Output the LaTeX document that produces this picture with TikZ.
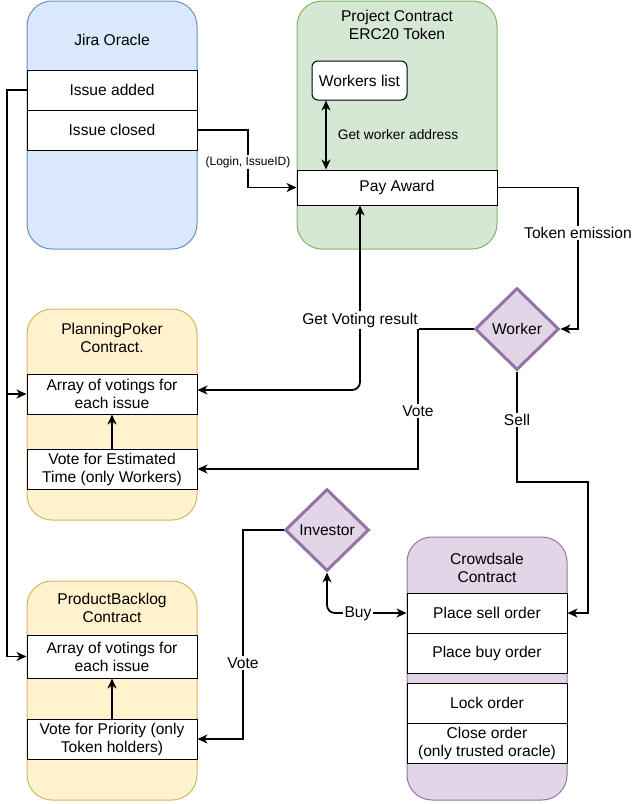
\documentclass[tikz,border=0pt]{standalone}
\usepackage{fontspec}
\setmainfont{Liberation Sans}
\usetikzlibrary{shapes.geometric,arrows.meta,calc}
\definecolor{jiraF}{HTML}{DAE8FC}
\definecolor{jiraS}{HTML}{6C8EBF}
\definecolor{projF}{HTML}{D5E8D4}
\definecolor{projS}{HTML}{82B366}
\definecolor{yelF}{HTML}{FFF2CC}
\definecolor{yelS}{HTML}{D6B656}
\definecolor{purF}{HTML}{E1D5E7}
\definecolor{purS}{HTML}{9673A6}
\begin{document}
\begin{tikzpicture}[x=1pt,y=-1pt,
  every node/.style={font=\fontsize{15.6}{18}\selectfont, inner sep=0pt, align=center},
  group/.style={draw, rounded corners=25pt, line width=1pt},
  jirabox/.style={group, fill=jiraF, draw=jiraS},
  projbox/.style={group, fill=projF, draw=projS},
  yelbox/.style={group, fill=yelF, draw=yelS},
  purbox/.style={group, fill=purF, draw=purS},
  row/.style={draw=black, fill=white, line width=1pt},
  diam/.style={diamond, aspect=1, draw=purS, fill=purF, line width=3pt, minimum width=84pt, minimum height=82pt},
  tip/.tip={Stealth[length=10pt,width=9pt,inset=3pt]},
  conn/.style={line width=1.8pt, -tip},
  biconn/.style={line width=1.8pt, tip-tip},
  lbl/.style={fill=white, inner sep=1.5pt},
  smalltext/.style={font=\fontsize{12}{14}\selectfont},
  midtext/.style={font=\fontsize{13.8}{16}\selectfont}
]
\useasboundingbox (0,0) rectangle (634,804);

% ---- Jira Oracle
\node[jirabox, minimum width=170pt, minimum height=248pt] (jira) at (112,125) {};
\node (jiraT) at (112,40) {Jira Oracle};
\node[row, minimum width=170pt, minimum height=40pt] (added) at (112,90) {Issue added};
\node[row, minimum width=170pt, minimum height=40pt] (closed) at (112,130) {Issue closed};

% ---- Project Contract
\node[projbox, minimum width=200pt, minimum height=248pt] (proj) at (397,125) {};
\node (projT) at (397,25) {Project Contract\\ERC20 Token};
\node[row, rounded corners=6pt, minimum width=95pt, minimum height=39pt] (workers) at (359.5,80.5) {Workers list};
\node[row, minimum width=200pt, minimum height=35pt] (pay) at (397,187.5) {Pay Award};

% ---- PlanningPoker
\node[yelbox, minimum width=170pt, minimum height=211pt] (pp) at (112,414.5) {};
\node (ppT) at (112,338) {PlanningPoker\\Contract.};
\node[row, minimum width=170pt, minimum height=40pt] (ppArray) at (112,394) {Array of votings for\\each issue};
\node[row, minimum width=170pt, minimum height=40pt] (ppVote) at (112,469) {Vote for Estimated\\Time (only Workers)};

% ---- ProductBacklog
\node[yelbox, minimum width=170pt, minimum height=219pt] (pb) at (112,690.5) {};
\node (pbT) at (112,607.5) {ProductBacklog\\Contract};
\node[row, minimum width=170pt, minimum height=43pt] (pbArray) at (112,656.5) {Array of votings for\\each issue};
\node[row, minimum width=170pt, minimum height=40pt] (pbVote) at (112,739) {Vote for Priority (only\\Token holders)};

% ---- Crowdsale
\node[purbox, minimum width=160pt, minimum height=263pt] (crowd) at (487,668.5) {};
\node (crowdT) at (487,568) {Crowdsale\\Contract};
\node[row, minimum width=160pt, minimum height=40pt] (sell) at (487,613) {Place sell order};
\node[row, minimum width=160pt, minimum height=40pt] (buy) at (487,653) {Place buy order};
\node[row, minimum width=160pt, minimum height=40pt] (lock) at (487,703) {Lock order};
\node[row, minimum width=160pt, minimum height=40pt] (close) at (487,743) {Close order\\(only trusted oracle)};

% ---- Diamonds
\node[diam] (worker) at (517,329) {Worker};
\node[diam] (investor) at (327,530) {Investor};

% ---- helper coordinates
\coordinate (lx) at (7,90);
\coordinate (cx) at (248,130);
\coordinate (gw) at (326,0);
\coordinate (tx) at (578,187.5);
\coordinate (gv) at (360,390);
\coordinate (vx) at (418,329);
\coordinate (sellc) at (588,482);
\coordinate (ix) at (243,530);

% ---- connectors
\draw[conn] (added.west) -- (lx) |- (ppArray.west);
\draw[conn] (lx) |- (pbArray.west);
\draw[conn] (closed.east) -- (cx) |- (pay.west);
\draw[biconn] (workers.south -| gw) -- (pay.north -| gw);
\draw[conn] (pay.east) -- (tx) |- (worker.east);
\draw[biconn, rounded corners=8pt] (pay.south -| gv) -- (gv) -- (ppArray.east |- gv);
\draw[conn] (worker.west) -- (vx) |- (ppVote.east);
\draw[conn] (worker.south) |- (sellc) |- (sell.east);
\draw[conn] (investor.west) -- (ix) |- (pbVote.east);
\draw[biconn, rounded corners=8pt] (investor.south) |- (sell.west);
\draw[conn] (ppVote.north) -- (ppArray.south);
\draw[conn] (pbVote.north) -- (pbArray.south);

% ---- labels
\node[lbl, smalltext] (lblLogin) at (248,162) {(Login, IssueID)};
\node[midtext] (lblGw) at (398,135) {Get worker address};
\node[lbl] (lblTok) at (578,233) {Token emission};
\node[lbl] (lblGv) at (360,320) {Get Voting result};
\node[lbl] (lblVote1) at (418,411) {Vote};
\node[lbl] (lblSell) at (517,420) {Sell};
\node[lbl] (lblVote2) at (243,663) {Vote};
\node[lbl] (lblBuy) at (358,614) {Buy};
\end{tikzpicture}
\end{document}
